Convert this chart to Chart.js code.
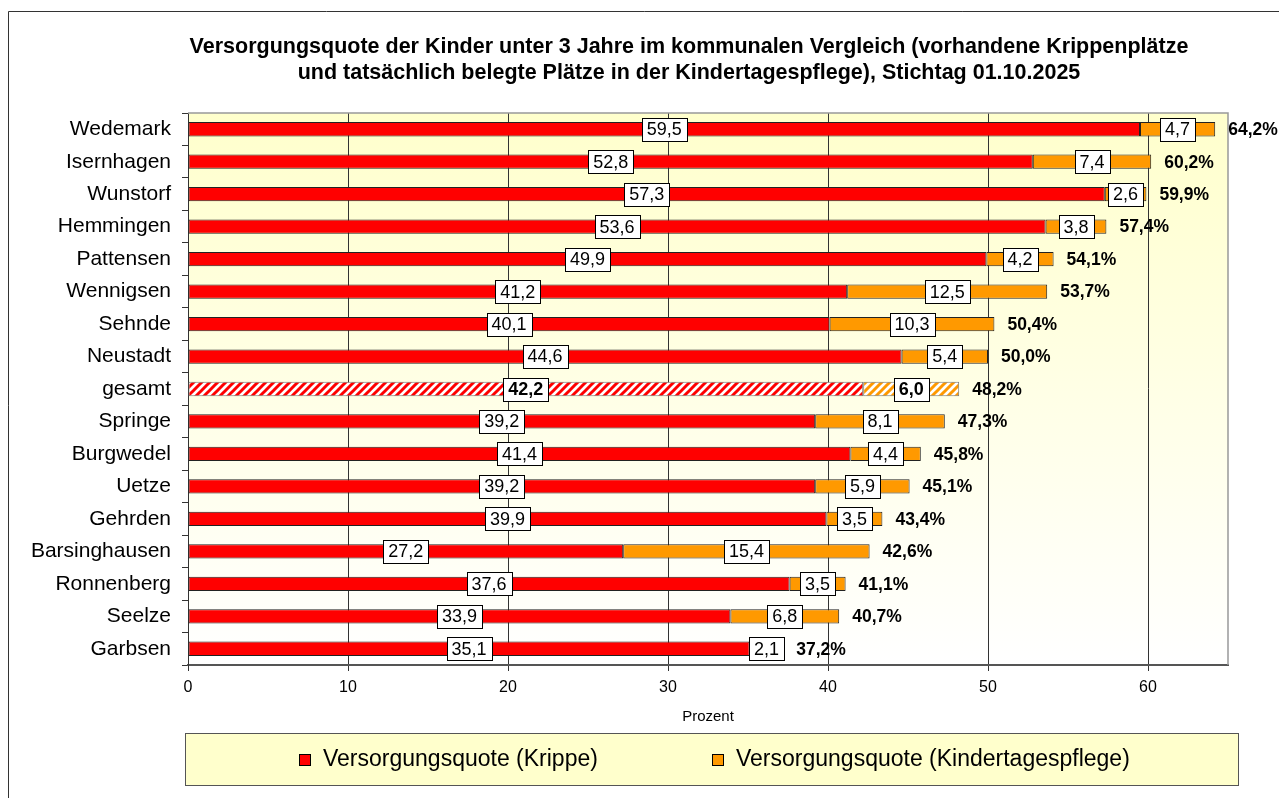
<!DOCTYPE html>
<html>
<head>
<meta charset="utf-8">
<script src="https://cdn.jsdelivr.net/npm/chart.js@4/dist/chart.umd.min.js"></script>
<style>
  body { margin: 0; background: #fff; }
  canvas { display: block; }
</style>
</head>
<body>
<canvas id="chart" width="1279" height="798"></canvas>
<script>
// Versorgungsquote data (Stichtag 01.10.2025)
const categories = ['Wedemark', 'Isernhagen', 'Wunstorf', 'Hemmingen', 'Pattensen', 'Wennigsen', 'Sehnde',
    'Neustadt', 'gesamt', 'Springe', 'Burgwedel', 'Uetze', 'Gehrden', 'Barsinghausen', 'Ronnenberg', 'Seelze', 'Garbsen'];
const krippe = [59.5, 52.8, 57.3, 53.6, 49.9, 41.2, 40.1, 44.6, 42.2, 39.2, 41.4, 39.2, 39.9, 27.2, 37.6, 33.9, 35.1];
const tagespflege = [4.7, 7.4, 2.6, 3.8, 4.2, 12.5, 10.3, 5.4, 6.0, 8.1, 4.4, 5.9, 3.5, 15.4, 3.5, 6.8, 2.1];
const totals = [64.2, 60.2, 59.9, 57.4, 54.1, 53.7, 50.4, 50.0, 48.2, 47.3, 45.8, 45.1, 43.4, 42.6, 41.1, 40.7, 37.2];
const xTickLabels = ['0', '10', '20', '30', '40', '50', '60'];
const titleLines = ['Versorgungsquote der Kinder unter 3 Jahre im kommunalen Vergleich (vorhandene Krippenplätze',
    'und tatsächlich belegte Plätze in der Kindertagespflege), Stichtag 01.10.2025'];

const FONT = "'Liberation Sans', Arial, sans-serif";
const RED = '#FF0000';
const ORANGE = '#FF9900';
const totalIndex = categories.indexOf('gesamt');

function fmt(v) {
    return v.toFixed(1).replace('.', ',');
}

// diagonal hatch for the "gesamt" bar
function stripes(color) {
    const c = document.createElement('canvas');
    c.width = 8; c.height = 8;
    const g = c.getContext('2d');
    g.fillStyle = '#fff';
    g.fillRect(0, 0, 8, 8);
    g.strokeStyle = color;
    g.lineWidth = 3;
    g.beginPath();
    g.moveTo(0, 8); g.lineTo(8, 0);
    g.moveTo(-4, 4); g.lineTo(4, -4);
    g.moveTo(4, 12); g.lineTo(12, 4);
    g.stroke();
    return g.createPattern(c, 'repeat');
}

const redFill = categories.map((c, i) => i === totalIndex ? stripes(RED) : RED);
const orangeFill = categories.map((c, i) => i === totalIndex ? stripes(ORANGE) : ORANGE);
const borders = categories.map((c, i) => i === totalIndex ? '#777' : '#222');

// title, plot background, frame, data labels and legend
const decor = {
    id: 'decor',
    beforeDraw(chart) {
        const { ctx, chartArea: a } = chart;
        ctx.save();
        // outer frame
        ctx.strokeStyle = '#333';
        ctx.lineWidth = 1;
        ctx.beginPath();
        ctx.moveTo(8.5, 820);
        ctx.lineTo(8.5, 11.5);
        ctx.lineTo(1300, 11.5);
        ctx.stroke();
        // title
        ctx.fillStyle = '#000';
        ctx.font = 'bold 21.5px ' + FONT;
        ctx.textAlign = 'center';
        ctx.textBaseline = 'middle';
        titleLines.forEach((t, i) => ctx.fillText(t, 689, 47 + i * 26.5));
        const grad = ctx.createLinearGradient(0, a.top, 0, a.bottom);
        grad.addColorStop(0, '#FFFFCC');
        grad.addColorStop(1, '#FFFFFF');
        ctx.fillStyle = grad;
        ctx.fillRect(a.left, a.top, a.right - a.left, a.bottom - a.top);
        ctx.restore();
    },
    afterDraw(chart) {
        const { ctx, chartArea: a } = chart;
        ctx.save();
        ctx.strokeStyle = '#999';
        ctx.lineWidth = 1.5;
        ctx.beginPath();
        ctx.moveTo(a.left, a.top);
        ctx.lineTo(a.right, a.top);
        ctx.lineTo(a.right, a.bottom);
        ctx.stroke();

        // value boxes in the segments
        chart.data.datasets.forEach((ds, di) => {
            chart.getDatasetMeta(di).data.forEach((bar, i) => {
                const bold = i === totalIndex;
                ctx.font = (bold ? 'bold ' : '') + '18px ' + FONT;
                const txt = fmt(ds.data[i]);
                const w = Math.round(ctx.measureText(txt).width + 10);
                const h = 23;
                const cx = (bar.x + bar.base) / 2;
                const bx = Math.round(cx - w / 2) + 0.5;
                const by = Math.round(bar.y - h / 2) + 0.5;
                ctx.fillStyle = '#fff';
                ctx.fillRect(bx, by, w, h);
                ctx.strokeStyle = '#000';
                ctx.lineWidth = 1;
                ctx.strokeRect(bx, by, w, h);
                ctx.fillStyle = '#000';
                ctx.textAlign = 'center';
                ctx.textBaseline = 'middle';
                ctx.fillText(txt, cx, bar.y + 1);
            });
        });

        // totals at the bar ends
        const last = chart.getDatasetMeta(chart.data.datasets.length - 1).data;
        ctx.font = 'bold 17.5px ' + FONT;
        ctx.textAlign = 'left';
        ctx.textBaseline = 'middle';
        ctx.fillStyle = '#000';
        last.forEach((bar, i) => {
            ctx.fillText(fmt(totals[i]) + '%', bar.x + 13, bar.y + 1);
        });

        // legend box
        ctx.fillStyle = '#FFFFCC';
        ctx.fillRect(185, 733, 1053, 52);
        ctx.strokeStyle = '#555';
        ctx.lineWidth = 1;
        ctx.strokeRect(185.5, 733.5, 1053, 52);
        const items = [[299, RED], [712, ORANGE]];
        ctx.font = '23px ' + FONT;
        ctx.textBaseline = 'middle';
        chart.data.datasets.forEach((ds, di) => {
            const [x, col] = items[di];
            ctx.fillStyle = col;
            ctx.fillRect(x + 0.5, 754.5, 11, 11);
            ctx.strokeStyle = '#000';
            ctx.strokeRect(x + 0.5, 754.5, 11, 11);
            ctx.fillStyle = '#000';
            ctx.fillText(ds.label, x + 24, 760);
        });
        ctx.restore();
    }
};

const ctx = document.getElementById('chart').getContext('2d');
const chart = new Chart(ctx, {
    type: 'bar',
    data: {
        labels: categories,
        datasets: [{
            label: 'Versorgungsquote (Krippe)',
            data: krippe,
            backgroundColor: redFill,
            borderColor: borders,
            borderWidth: 1,
            borderSkipped: false,
            barPercentage: 0.44,
            categoryPercentage: 1
        }, {
            label: 'Versorgungsquote (Kindertagespflege)',
            data: tagespflege,
            backgroundColor: orangeFill,
            borderColor: borders,
            borderWidth: 1,
            borderSkipped: false,
            barPercentage: 0.44,
            categoryPercentage: 1
        }]
    },
    options: {
        indexAxis: 'y',
        responsive: false,
        animation: false,
        layout: { padding: { left: 0, right: 51, top: 113, bottom: 72 } },
        plugins: {
            legend: { display: false },
            tooltip: { enabled: false },
            title: { display: false }
        },
        scales: {
            x: {
                stacked: true,
                min: 0,
                max: 65,
                ticks: {
                    stepSize: 10,
                    includeBounds: false,
                    color: '#000',
                    font: { family: FONT, size: 16 },
                    padding: 7,
                    callback: (v) => xTickLabels[v / 10]
                },
                grid: { color: '#333', lineWidth: 1, tickLength: 6, tickColor: '#333' },
                border: { color: '#555', width: 2 },
                title: {
                    display: true,
                    text: 'Prozent',
                    color: '#000',
                    font: { family: FONT, size: 15 },
                    padding: 0
                },
                afterFit: (scale) => { scale.height = 61; }
            },
            y: {
                stacked: true,
                ticks: {
                    color: '#000',
                    font: { family: FONT, size: 21 },
                    padding: 11
                },
                grid: { drawOnChartArea: false, tickLength: 6, tickColor: '#333' },
                border: { color: '#333', width: 1 },
                afterFit: (scale) => { scale.width = 188; }
            }
        }
    },
    plugins: [decor]
});
</script>
</body>
</html>
